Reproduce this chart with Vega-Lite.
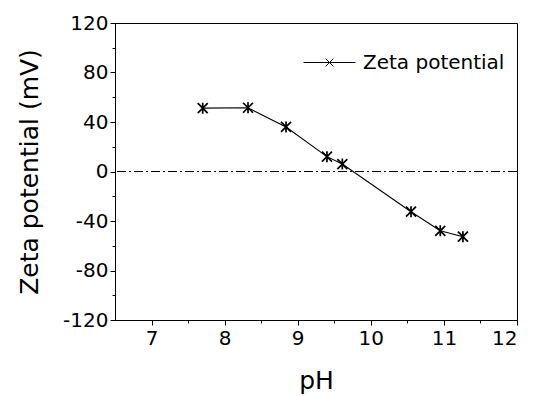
{
  "$schema": "https://vega.github.io/schema/vega-lite/v6.json",
  "width": 402,
  "height": 297,
  "autosize": {"type": "none"},
  "padding": {"left": 115, "top": 23, "right": 20, "bottom": 76},
  "background": "white",
  "config": {
    "font": "DejaVu Sans",
    "view": {"stroke": "black", "strokeWidth": 1},
    "axis": {
      "grid": false,
      "domainColor": "black",
      "domainWidth": 1,
      "tickColor": "black",
      "tickWidth": 1,
      "labelColor": "black",
      "titleColor": "black",
      "labelFontSize": 20,
      "titleFontSize": 25,
      "titleFontWeight": "normal"
    }
  },
  "datasets": {
    "zeta": [
      {"pH": 7.70, "zeta": 51.2},
      {"pH": 8.32, "zeta": 51.5},
      {"pH": 8.84, "zeta": 36.0},
      {"pH": 9.40, "zeta": 12.0},
      {"pH": 9.61, "zeta": 6.0},
      {"pH": 10.55, "zeta": -32.5},
      {"pH": 10.95, "zeta": -47.9},
      {"pH": 11.26, "zeta": -52.7}
    ],
    "zero": [{"zeta": 0}]
  },
  "layer": [
    {
      "data": {"name": "zero"},
      "mark": {"type": "rule", "color": "black", "strokeWidth": 1, "strokeDash": [9, 3, 2, 3]},
      "encoding": {
        "y": {"field": "zeta", "type": "quantitative", "scale": {"domain": [-120, 120], "nice": false},
          "axis": {"title": "Zeta potential (mV)", "values": [-120,-100,-80,-60,-40,-20,0,20,40,60,80,100,120],
            "labelExpr": "datum.value % 40 === 0 ? '' + datum.value : ''",
            "tickSize": {"condition": {"test": "datum.value % 40 !== 0", "value": 3}, "value": 5},
            "labelPadding": 2, "titlePadding": 20}}
      }
    },
    {
      "data": {"name": "zeta"},
      "mark": {"type": "line", "color": "black", "strokeWidth": 1.1},
      "encoding": {
        "x": {"field": "pH", "type": "quantitative", "scale": {"domain": [6.5, 12], "nice": false},
          "axis": {"title": "pH", "values": [7,7.5,8,8.5,9,9.5,10,10.5,11,11.5,12],
            "labelExpr": "datum.value % 1 === 0 ? '' + datum.value : ''",
            "tickSize": {"condition": {"test": "datum.value % 1 !== 0", "value": 3}, "value": 5},
            "labelPadding": 3, "titlePadding": 20}},
        "y": {"field": "zeta", "type": "quantitative", "scale": {"domain": [-120, 120], "nice": false},
          "axis": {"title": "Zeta potential (mV)", "values": [-120,-100,-80,-60,-40,-20,0,20,40,60,80,100,120],
            "labelExpr": "datum.value % 40 === 0 ? '' + datum.value : ''",
            "tickSize": {"condition": {"test": "datum.value % 40 !== 0", "value": 3}, "value": 5},
            "labelPadding": 2, "titlePadding": 20}}
      }
    },
    {
      "data": {"name": "zeta"},
      "mark": {"type": "point", "shape": "M-1,-1L1,1M-1,1L1,-1M0,-1.1L0,1.1", "filled": false, "strokeWidth": 1.7, "size": 100, "opacity": 1},
      "encoding": {
        "x": {"field": "pH", "type": "quantitative", "scale": {"domain": [6.5, 12], "nice": false},
          "axis": {"title": "pH", "values": [7,7.5,8,8.5,9,9.5,10,10.5,11,11.5,12],
            "labelExpr": "datum.value % 1 === 0 ? '' + datum.value : ''",
            "tickSize": {"condition": {"test": "datum.value % 1 !== 0", "value": 3}, "value": 5},
            "labelPadding": 3, "titlePadding": 20}},
        "y": {"field": "zeta", "type": "quantitative", "scale": {"domain": [-120, 120], "nice": false},
          "axis": {"title": "Zeta potential (mV)", "values": [-120,-100,-80,-60,-40,-20,0,20,40,60,80,100,120],
            "labelExpr": "datum.value % 40 === 0 ? '' + datum.value : ''",
            "tickSize": {"condition": {"test": "datum.value % 40 !== 0", "value": 3}, "value": 5},
            "labelPadding": 2, "titlePadding": 20}},
        "color": {"datum": "Zeta potential", "type": "nominal", "scale": {"range": ["black"]},
          "legend": {"orient": "none", "legendX": 188, "legendY": 13, "title": null, "padding": 0,
            "symbolType": "M-1,0L1,0M-0.15,-0.15L0.15,0.15M-0.15,0.15L0.15,-0.15",
            "symbolSize": 2704, "symbolStrokeColor": "black", "symbolStrokeWidth": 1,
            "symbolFillColor": "transparent", "labelFontSize": 20, "labelColor": "black", "labelOffset": 7}}
      }
    }
  ]
}
